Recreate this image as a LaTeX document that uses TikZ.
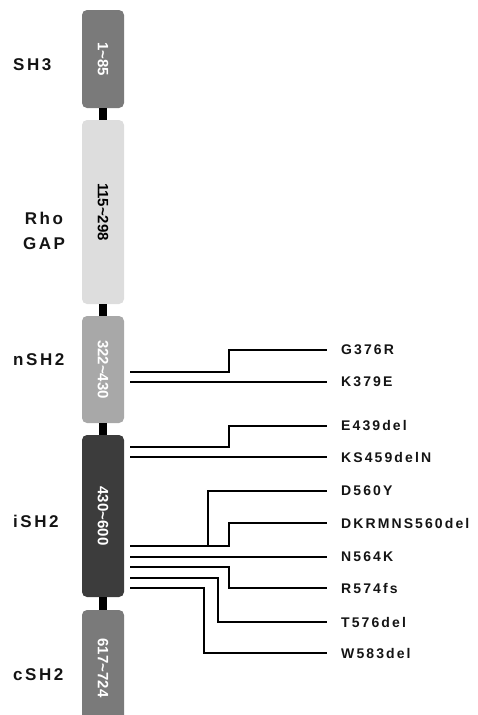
\documentclass[tikz,border=0pt]{standalone}
\usepackage{fontspec}
\setmainfont{Liberation Sans}
\usepackage{graphicx}
\definecolor{sh3fill}{RGB}{122,122,122}
\definecolor{gapfill}{RGB}{221,221,221}
\definecolor{nshfill}{RGB}{168,168,168}
\definecolor{ishfill}{RGB}{60,60,60}
\definecolor{inkcol}{RGB}{20,20,20}
\tikzset{
  dombox/.style={draw=none,rounded corners=5pt,minimum width=42pt,inner sep=0pt,text=white,
    font=\fontsize{15}{17}\selectfont\bfseries},
  linker/.style={draw=black,line width=8pt},
  domlabel/.style={anchor=west,inner sep=0pt,text=inkcol,align=center,
    font=\fontsize{17}{25}\selectfont\bfseries\addfontfeatures{LetterSpace=15}},
  mutlabel/.style={anchor=west,inner sep=0pt,text=inkcol,
    font=\fontsize{14}{16}\selectfont\bfseries\addfontfeatures{LetterSpace=15}},
  mutline/.style={draw=black,line width=2.5pt}
}
\begin{document}
\begin{tikzpicture}[x=1pt,y=-1pt]
\path[use as bounding box] (0,0) rectangle (477,715);
% domains
\node[dombox,fill=sh3fill,minimum height=98pt] (sh3) at (103,59) {\rotatebox{-90}{1\textasciitilde85}};
\node[dombox,fill=gapfill,minimum height=184pt,text=black] (rhogap) at (103,212) {\rotatebox{-90}{115\textasciitilde298}};
\node[dombox,fill=nshfill,minimum height=107pt] (nsh2) at (103,369.5) {\rotatebox{-90}{322\textasciitilde430}};
\node[dombox,fill=ishfill,minimum height=162pt] (ish2) at (103,516) {\rotatebox{-90}{430\textasciitilde600}};
\node[dombox,fill=sh3fill,minimum height=116pt] (csh2) at (103,668) {\rotatebox{-90}{617\textasciitilde724}};
\draw[linker] (sh3.south) -- (rhogap.north);
\draw[linker] (rhogap.south) -- (nsh2.north);
\draw[linker] (nsh2.south) -- (ish2.north);
\draw[linker] (ish2.south) -- (csh2.north);
% domain names
\node[domlabel] (lsh3) at (13,65) {SH3};
\node[domlabel,anchor=center] (lgap) at (44,230.5) {Rho\\GAP};
\node[domlabel] (lnsh2) at (13,359.5) {nSH2};
\node[domlabel] (lish2) at (13,521) {iSH2};
\node[domlabel] (lcsh2) at (13,675) {cSH2};
% mutations
\node[mutlabel] (g376r) at (341,350) {G376R};
\node[mutlabel] (k379e) at (341,382) {K379E};
\node[mutlabel] (e439del) at (341,426) {E439del};
\node[mutlabel] (ks459deln) at (341,457) {KS459delN};
\node[mutlabel] (d560y) at (341,491) {D560Y};
\node[mutlabel] (dkrmns) at (341,523) {DKRMNS560del};
\node[mutlabel] (n564k) at (341,557) {N564K};
\node[mutlabel] (r574fs) at (341,588) {R574fs};
\node[mutlabel] (t576del) at (341,622) {T576del};
\node[mutlabel] (w583del) at (341,653) {W583del};
\coordinate (na) at (130,372);
\coordinate (nb) at (130,382);
\coordinate (ia) at (130,447);
\coordinate (ib) at (130,457);
\coordinate (ic) at (130,546);
\coordinate (id) at (130,557);
\coordinate (ie) at (130,567);
\coordinate (if) at (130,578);
\coordinate (ig) at (130,588);
\draw[mutline] (na) -- ++(99,0) |- ([xshift=-14pt]g376r.west);
\draw[mutline] (nb) -- ([xshift=-14pt]k379e.west);
\draw[mutline] (ia) -- ++(99,0) |- ([xshift=-14pt]e439del.west);
\draw[mutline] (ib) -- ([xshift=-14pt]ks459deln.west);
\draw[mutline] (ic) -- ++(78,0) |- ([xshift=-14pt]d560y.west);
\draw[mutline] (ic) -- ++(99,0) |- ([xshift=-14pt]dkrmns.west);
\draw[mutline] (id) -- ([xshift=-14pt]n564k.west);
\draw[mutline] (ie) -- ++(99,0) |- ([xshift=-14pt]r574fs.west);
\draw[mutline] (if) -- ++(88,0) |- ([xshift=-14pt]t576del.west);
\draw[mutline] (ig) -- ++(74,0) |- ([xshift=-14pt]w583del.west);
\end{tikzpicture}
\end{document}
